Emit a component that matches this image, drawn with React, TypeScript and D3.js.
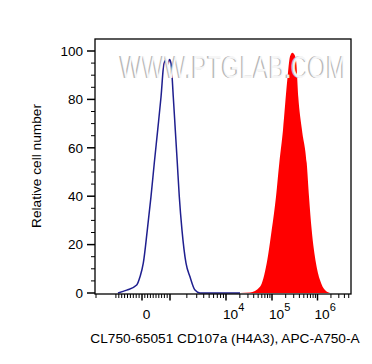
import * as d3 from 'd3';

// histogram data (x in channel units, y in % of max)
const controlX = [-828, -528, -183, -69, 46, 189, 321, 439, 561, 679, 786, 857, 918, 982, 1042, 1145, 1243, 1350, 1466, 1637, 1931, 2276, 2794, 3434, 20140];
const controlY = [0, 1.2, 3.3, 6.7, 12.3, 26, 39.8, 53.7, 67.4, 81, 95, 96.3, 94.2, 96.5, 94.9, 81, 67.4, 53.7, 39.8, 26, 12.3, 6.7, 1.2, 0, 0];

const stainedX = [20140, 33240, 54830, 76700, 98500, 122400, 144700, 174500, 216700, 248600, 279200, 304400, 336700, 378300, 456000, 579700, 650700, 745600, 926700, 1137000, 1472000, 1905000];
const stainedY = [0, 0.2, 2.6, 12.3, 26, 39.8, 53.7, 67.4, 88, 97.7, 99.3, 98.8, 96.3, 81, 67.4, 53.7, 39.8, 26, 12.3, 5.4, 1.2, 0];

const yTicks = [0, 20, 40, 60, 80, 100];
const xLabels = [
  { v: 0, base: '0', exp: '' },
  { v: 1e4, base: '10', exp: '4' },
  { v: 1e5, base: '10', exp: '5' },
  { v: 1e6, base: '10', exp: '6' },
];

const W = 372;
const H = 364;
const left = 95;
const right = 351;
const top = 39;
const bottom = 294;
const font = 'Arial, "Liberation Sans", sans-serif';

// biexponential-ish axis: linear around zero, log above 10^3
const linPart = d3.scaleLinear().domain([-2000, -1000, 0, 1000]).range([96, 113, 142, 170]);
const logPart = d3.scaleLinear().domain([3, 4, 5, 6, 6.75]).range([170, 226, 272, 317.5, 351]);
const x = (v: number) => (v <= 1000 ? linPart(v) : logPart(Math.log10(v)));

const y = d3.scaleLinear().domain([0, 100]).range([293, 51]);

// tick positions
const minorX: number[] = [-2000];
for (let k = -9; k <= 9; k++) if (k !== 0) minorX.push(k * 100);
for (let d = 3; d <= 6; d++) {
  for (let k = 2; k <= 9; k++) {
    const v = k * Math.pow(10, d);
    if (Math.log10(v) <= 6.75) minorX.push(v);
  }
}
const majorX = [0, 1000, 1e4, 1e5, 1e6];
const minorY = d3.range(0, 101, 5);

export default function App() {
  const ctrl = controlX.map((v, i) => [x(v), y(controlY[i])] as [number, number]);
  const stn = stainedX.map((v, i) => [x(v), y(stainedY[i])] as [number, number]);

  const line = d3.line().curve(d3.curveMonotoneX);
  const area = d3
    .area<[number, number]>()
    .x((d) => d[0])
    .y0(y(0))
    .y1((d) => d[1])
    .curve(d3.curveMonotoneX);

  return (
    <svg width={W} height={H} style={{ position: 'absolute', left: 0, top: 0, background: '#fff' }}>
      <path d={area(stn) ?? ''} fill="#ff0000" />
      <path d={line(ctrl) ?? ''} fill="none" stroke="#1f1f8f" strokeWidth={1.5} />

      {/* watermark */}
      <g fontFamily={font} fontSize={31}>
        <text x={119} y={78} textLength={226} lengthAdjust="spacingAndGlyphs" fill="#b8b8b8">
          WWW.PTGLAB.COM
        </text>
        <text x={120.4} y={77.6} textLength={226} lengthAdjust="spacingAndGlyphs" fill="#ffffff" fillOpacity={0.9}>
          WWW.PTGLAB.COM
        </text>
      </g>

      {/* frame */}
      <rect x={left} y={top} width={right - left} height={bottom - top} fill="none" stroke="#000" strokeWidth={1.3} />

      {/* y axis ticks */}
      {minorY.map((v) => (
        <line key={'my' + v} x1={left} x2={v % 20 === 0 ? left - 8 : left - 4} y1={y(v)} y2={y(v)} stroke="#000" strokeWidth={v % 20 === 0 ? 1.5 : 1} />
      ))}
      {yTicks.map((v) => (
        <text key={'ly' + v} x={83} y={y(v)} dy="0.35em" textAnchor="end" fontFamily={font} fontSize={13.5} fill="#000">
          {v}
        </text>
      ))}

      {/* x axis ticks */}
      {minorX.map((v) => (
        <line key={'mx' + v} x1={x(v)} x2={x(v)} y1={bottom} y2={bottom + 4} stroke="#000" strokeWidth={1} />
      ))}
      {majorX.map((v) => (
        <line key={'Mx' + v} x1={x(v)} x2={x(v)} y1={bottom} y2={bottom + 6.5} stroke="#000" strokeWidth={1.5} />
      ))}
      {xLabels.map((l) =>
        l.exp ? (
          <text key={'lx' + l.v} x={x(l.v) - 3} y={319} fontFamily={font} fontSize={13.7} fill="#000">
            {l.base}
            <tspan fontSize={11} dy={-8.5}>
              {l.exp}
            </tspan>
          </text>
        ) : (
          <text key={'lx' + l.v} x={x(l.v) + 4.5} y={319} textAnchor="middle" fontFamily={font} fontSize={13.7} fill="#000">
            {l.base}
          </text>
        )
      )}

      {/* titles */}
      <text x={225} y={343} textAnchor="middle" fontFamily={font} fontSize={13.7} fill="#000">
        CL750-65051 CD107a (H4A3), APC-A750-A
      </text>
      <text transform="translate(41,166) rotate(-90)" textAnchor="middle" fontFamily={font} fontSize={13.7} fill="#000">
        Relative cell number
      </text>
    </svg>
  );
}
